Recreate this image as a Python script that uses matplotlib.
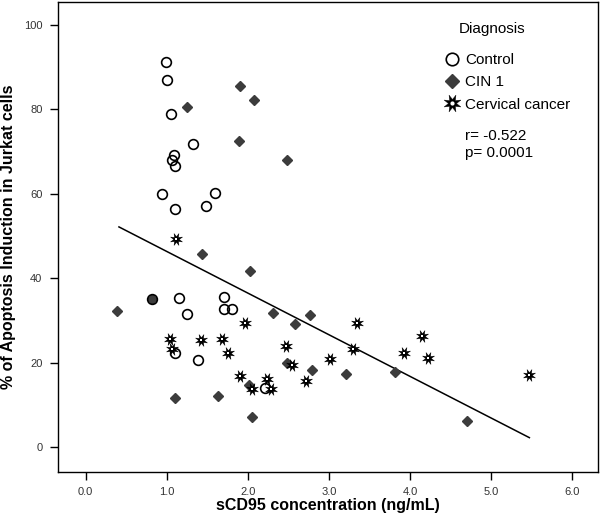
import numpy as np
import matplotlib
matplotlib.use("Agg")
import matplotlib.pyplot as plt
from matplotlib.lines import Line2D

plt.rcParams['font.family'] = ['Liberation Sans', 'DejaVu Sans']

#-----------------------
#   Data
#-----------------------
control_x = [0.99, 1.00, 1.05, 1.32, 1.09, 1.07, 1.10, 0.94, 1.60, 1.10, 1.48,
             0.82, 1.15, 1.25, 1.70, 1.71, 1.80, 1.10, 1.39, 2.21]
control_y = [91.2, 87.0, 78.8, 71.8, 69.2, 68.0, 66.5, 59.9, 60.3, 56.3, 57.2,
             35.1, 35.3, 31.6, 35.6, 32.8, 32.8, 22.2, 20.7, 14.0]

cin_x = [1.90, 2.07, 1.25, 1.89, 2.48, 1.43, 2.03, 0.82, 0.39, 2.31, 2.77,
         2.58, 2.48, 2.79, 3.21, 2.01, 1.10, 1.63, 2.05, 3.81, 4.70]
cin_y = [85.6, 82.1, 80.5, 72.5, 68.0, 45.8, 41.8, 35.1, 32.3, 31.8, 31.4,
         29.2, 19.9, 18.4, 17.4, 14.8, 11.7, 12.1, 7.2, 17.9, 6.2]

cancer_x = [1.11, 1.04, 1.07, 1.42, 1.68, 1.75, 1.97, 2.47, 2.54, 1.90, 2.05,
            2.24, 2.28, 2.71, 3.01, 3.30, 3.34, 3.93, 4.15, 4.22, 5.47]
cancer_y = [49.4, 25.7, 23.2, 25.3, 25.6, 22.4, 29.3, 24.0, 19.4, 16.8, 13.7,
            16.2, 13.9, 15.6, 21.0, 23.2, 29.4, 22.4, 26.3, 21.2, 17.2]

# regression line (intercept, slope) and its x span
fit_intercept = 56.2
fit_slope = -9.86
fit_xrange = [0.41, 5.47]

r_text = "r= -0.522"
p_text = "p= 0.0001"

#-----------------------
#   Marker shape: spiky 8-point burst
#-----------------------
ang = np.linspace(0, 2*np.pi, 17)[:-1] + np.pi/8
rad = np.where(np.arange(16) % 2 == 0, 1.0, 0.45)
burst = np.column_stack([rad*np.cos(ang), rad*np.sin(ang)])
burst = np.vstack([burst, burst[:1]])

#-----------------------
#   Figure
#-----------------------
fig = plt.figure(figsize=(6.0, 5.19), dpi=100)
ax = fig.add_axes([0.0962, 0.0911, 0.9010, 0.905])

diamond_col = '#3c3c3c'

xf = np.array(fit_xrange)
ax.plot(xf, fit_intercept + fit_slope * xf, color='black', lw=1.1, zorder=2)

ax.plot(cin_x, cin_y, 'D', ms=5.2, color=diamond_col, mec=diamond_col, zorder=3)
ax.plot(control_x, control_y, 'o', ms=7, mfc='none', mec='black', mew=1.2, zorder=4)
ax.plot(cancer_x, cancer_y, ls='none', marker=burst, ms=8.5, color='black', mew=0.3, zorder=5)
ax.plot(cancer_x, cancer_y, ls='none', marker='s', ms=1.8, color='white', mew=0, zorder=6)

ax.set_xlim(-0.345, 6.32)
ax.set_ylim(-5.8, 105.4)
ax.set_xticks(np.arange(0, 7, 1))
ax.set_xticklabels(['%.1f' % v for v in np.arange(0, 7, 1)])
ax.set_yticks(np.arange(0, 101, 20))
ax.tick_params(direction='out', length=6, width=1, labelsize=8,
               labelcolor='#333333', pad=5)
for s in ax.spines.values():
    s.set_linewidth(1.0)

ax.set_xlabel('sCD95 concentration (ng/mL)', fontsize=11.5, fontweight='bold', labelpad=1)
ax.set_ylabel('% of Apoptosis Induction in Jurkat cells', fontsize=11.5,
              fontweight='bold', labelpad=6)

# legend
h_ctrl = Line2D([], [], ls='none', marker='o', ms=9, mfc='none', mec='black', mew=1.2)
h_cin = Line2D([], [], ls='none', marker='D', ms=7, color=diamond_col)
h_star = Line2D([], [], ls='none', marker=burst, ms=12, color='black', mew=0.3)
h_dot = Line2D([], [], ls='none', marker='o', ms=3, color='white', mew=0)
ax.text(0.803, 0.9425, 'Diagnosis', transform=ax.transAxes, ha='center',
        va='center', fontsize=11)
ax.legend([h_ctrl, h_cin, (h_star, h_dot)], ['Control', 'CIN 1', 'Cervical cancer'],
          loc='upper left', bbox_to_anchor=(0.702, 0.908), frameon=False,
          fontsize=11, handlelength=1.0, handletextpad=0.35, labelspacing=0.55,
          borderpad=0)
ax.text(0.754, 0.696, r_text + '\n' + p_text, transform=ax.transAxes, ha='left',
        va='center', fontsize=11, linespacing=1.3)

fig.savefig('out.png', dpi=100)
